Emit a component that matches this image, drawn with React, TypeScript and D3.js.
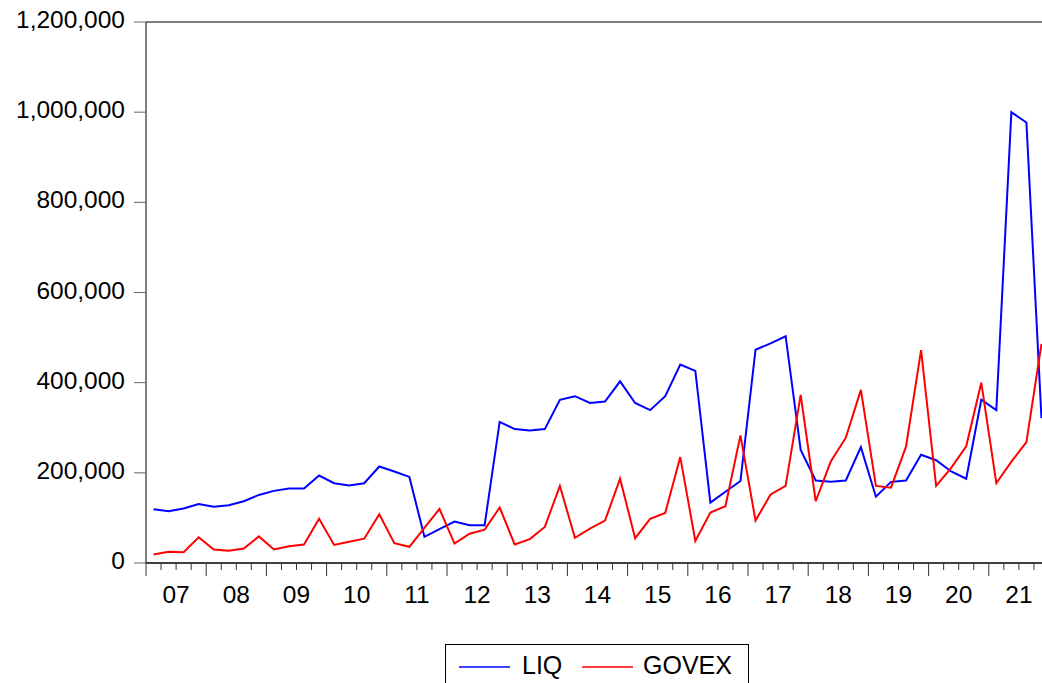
import React from "react";
import * as d3 from "d3";

// quarterly, 2007Q1 .. 2021Q4
const years = ["07", "08", "09", "10", "11", "12", "13", "14", "15", "16", "17", "18", "19", "20", "21"];

const liq = [
  119000, 115000, 121000, 131000, 125000, 128000, 137000, 151000, 160000, 165000,
  165000, 194000, 177000, 172000, 177000, 214000, 203000, 191000, 58000, 75000,
  92000, 84000, 84000, 313000, 297000, 294000, 297000, 362000, 370000, 355000,
  358000, 403000, 355000, 339000, 370000, 440000, 426000, 134000, 158000, 182000,
  473000, 487000, 503000, 251000, 183000, 180000, 183000, 257000, 147000, 180000,
  183000, 240000, 228000, 203000, 187000, 362000, 339000, 1000000, 977000, 321000,
];

const govex = [
  19000, 25000, 24000, 57000, 30000, 27000, 32000, 59000, 30000, 37000,
  41000, 98000, 40000, 47000, 54000, 108000, 44000, 36000, 78000, 120000,
  43000, 65000, 74000, 123000, 41000, 53000, 80000, 171000, 56000, 76000,
  94000, 187000, 55000, 98000, 111000, 235000, 49000, 112000, 126000, 283000,
  94000, 152000, 171000, 373000, 137000, 225000, 278000, 384000, 171000, 167000,
  258000, 472000, 171000, 211000, 259000, 400000, 177000, 225000, 268000, 486000,
];

const yTicks = [0, 200000, 400000, 600000, 800000, 1000000, 1200000];

export default function App() {
  const width = 1042,
    height = 683;
  const left = 146,
    top = 22,
    bottom = 563;
  const nQ = liq.length;

  const x = d3.scaleLinear().domain([0, nQ]).range([left, left + 15.05 * nQ]);
  const y = d3.scaleLinear().domain([0, 1200000]).range([bottom, top]);

  const line = d3
    .line<number>()
    .x((_, i) => x(i + 0.5))
    .y((d) => y(d));

  const fmt = d3.format(",");
  const font = "'Liberation Sans', Arial, sans-serif";

  return (
    <svg
      width={width}
      height={height}
      style={{ position: "absolute", left: 0, top: 0, background: "#fff" }}
      fontFamily={font}
    >
      <rect width={width} height={height} fill="#fff" />
      {/* frame */}
      <line x1={left} x2={width} y1={top} y2={top} stroke="#000" strokeWidth={1} />
      <line x1={left} x2={left} y1={top} y2={bottom} stroke="#000" strokeWidth={1} />
      <line x1={left} x2={width} y1={bottom} y2={bottom} stroke="#000" strokeWidth={1.5} />

      {/* y axis */}
      {yTicks.map((t) => (
        <g key={t}>
          <line x1={134} x2={left} y1={y(t)} y2={y(t)} stroke="#666" strokeWidth={1} />
          <text x={125} y={y(t) + 6} textAnchor="end" fontSize={24.5} fill="#000">
            {fmt(t)}
          </text>
        </g>
      ))}

      {/* x axis ticks */}
      {d3.range(0, nQ + 1).map((q) => (
        <line
          key={q}
          x1={x(q)}
          x2={x(q)}
          y1={bottom}
          y2={q % 4 === 0 ? bottom + 13 : bottom + 7}
          stroke="#333"
          strokeWidth={1}
        />
      ))}
      {years.map((yr, i) => (
        <text key={yr} x={x(i * 4 + 2)} y={603} textAnchor="middle" fontSize={24.5} fill="#000">
          {yr}
        </text>
      ))}

      {/* series */}
      <path d={line(liq) ?? ""} fill="none" stroke="#0000ff" strokeWidth={2} strokeLinejoin="miter" />
      <path d={line(govex) ?? ""} fill="none" stroke="#ff0000" strokeWidth={2} strokeLinejoin="miter" />

      {/* legend */}
      <rect x={445.5} y={644.5} width={303} height={50} fill="#fff" stroke="#000" strokeWidth={1} />
      <line x1={459} x2={510} y1={667} y2={667} stroke="#0000ff" strokeWidth={1.5} />
      <text x={522} y={674} fontSize={25} fill="#000">LIQ</text>
      <line x1={582} x2={633} y1={667} y2={667} stroke="#ff0000" strokeWidth={1.5} />
      <text x={643} y={674} fontSize={25} fill="#000">GOVEX</text>
    </svg>
  );
}
